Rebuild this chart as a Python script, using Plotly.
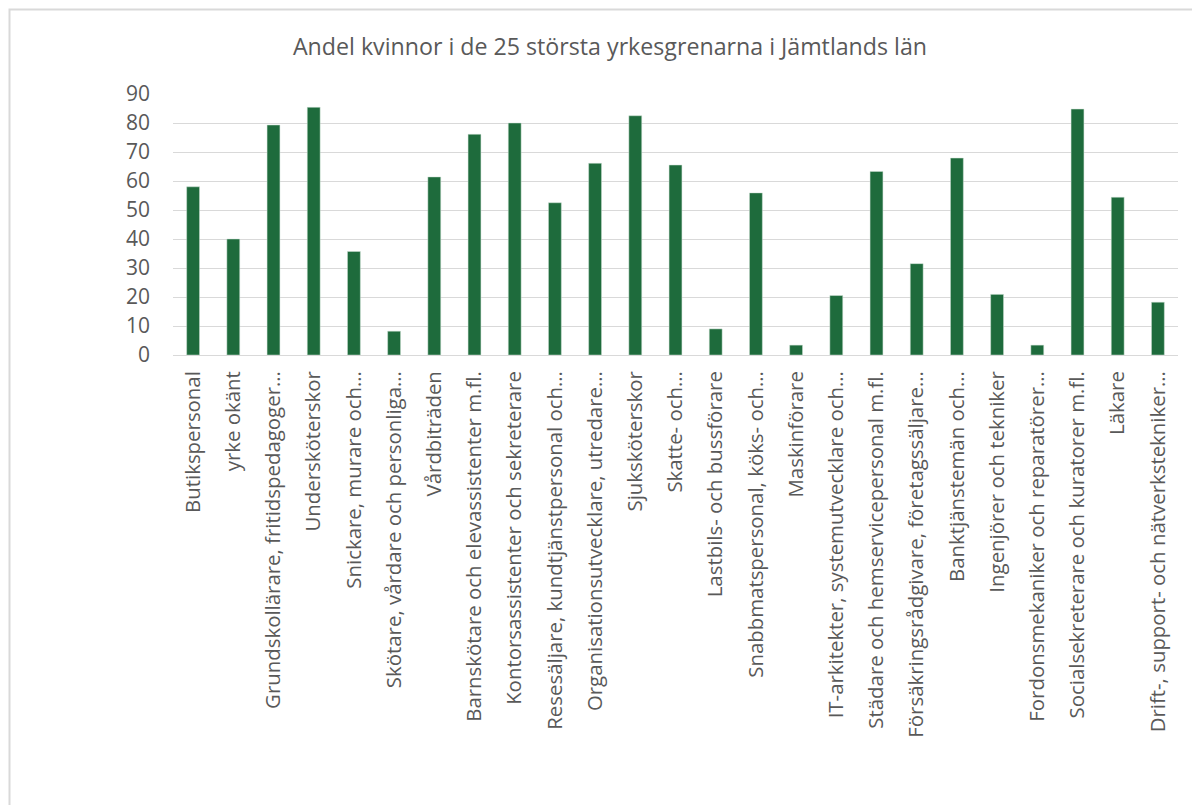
import plotly.graph_objects as go

categories = [
    "Butikspersonal",
    "yrke okänt",
    "Grundskollärare, fritidspedagoger…",
    "Undersköterskor",
    "Snickare, murare och…",
    "Skötare, vårdare och personliga…",
    "Vårdbiträden",
    "Barnskötare och elevassistenter m.fl.",
    "Kontorsassistenter och sekreterare",
    "Resesäljare, kundtjänstpersonal och…",
    "Organisationsutvecklare, utredare…",
    "Sjuksköterskor",
    "Skatte- och…",
    "Lastbils- och bussförare",
    "Snabbmatspersonal, köks- och…",
    "Maskinförare",
    "IT-arkitekter, systemutvecklare och…",
    "Städare och hemservicepersonal m.fl.",
    "Försäkringsrådgivare, företagssäljare…",
    "Banktjänstemän och…",
    "Ingenjörer och tekniker",
    "Fordonsmekaniker och reparatörer…",
    "Socialsekreterare och kuratorer m.fl.",
    "Läkare",
    "Drift-, support- och nätverkstekniker…",
]

andel_kvinnor = [58, 40, 79.3, 85.4, 35.7, 8.2, 61.4, 76.1, 80.0, 52.5, 66.1, 82.5,
                 65.5, 9.0, 55.9, 3.4, 20.5, 63.3, 31.5, 67.9, 20.9, 3.4, 84.8, 54.4, 18.2]

y_ticks = [0, 10, 20, 30, 40, 50, 60, 70, 80, 90]

title_text = "Andel kvinnor i de 25 största yrkesgrenarna i Jämtlands län"

GRAY = "#595959"
GREEN = "#1e6b3c"

# page has an 8px body margin; compensate so the plot lands at the target pixels
OFF = 8
W, H = 1200, 805
L = 173 - OFF
T = 94 - OFF
R = W + OFF - 1178
B = H + OFF - 355
pw = W - L - R
ph = H - T - B

def px_x(px):
    return (px - OFF - L) / pw

def px_y(py):
    return (H - B - (py - OFF)) / ph

fig = go.Figure()
fig.add_trace(go.Bar(
    x=categories,
    y=andel_kvinnor,
    marker=dict(color=GREEN, line=dict(color="#cfe0d5", width=0.5)),
    width=0.32,
))

fig.update_layout(
    width=W, height=H,
    margin=dict(l=L, r=R, t=T, b=B),
    paper_bgcolor="white",
    plot_bgcolor="white",
    showlegend=False,
    font=dict(family="Open Sans", color=GRAY),
    title=dict(
        text=title_text,
        x=px_x(610), xref="paper", xanchor="center",
        y=1 - (47 - OFF) / H, yanchor="middle",
        font=dict(family="Open Sans", size=23.2, color=GRAY),
    ),
    xaxis=dict(
        type="category",
        tickangle=-90,
        tickfont=dict(family="Open Sans", size=20.4, color=GRAY),
        showgrid=False,
        showline=True, linecolor="#d9d9d9", linewidth=1,
        ticks="", ticklabelstandoff=7,
        range=[-0.5, len(categories) - 0.5],
        fixedrange=True,
    ),
    yaxis=dict(
        range=[0, 90],
        tickvals=y_ticks,
        ticktext=[str(v) for v in y_ticks],
        tickfont=dict(family="Open Sans", size=21, color=GRAY),
        showgrid=True, gridcolor="#d9d9d9", gridwidth=1,
        zeroline=False,
        showline=False,
        ticks="", ticklabelstandoff=22,
        fixedrange=True,
    ),
    shapes=[
        dict(type="rect", xref="paper", yref="paper",
             x0=px_x(9.5), x1=px_x(1230), y0=px_y(9.5), y1=px_y(830),
             line=dict(color="#d9d9d9", width=2), fillcolor="rgba(0,0,0,0)", layer="below"),
    ],
)

fig.write_html("out.html")
